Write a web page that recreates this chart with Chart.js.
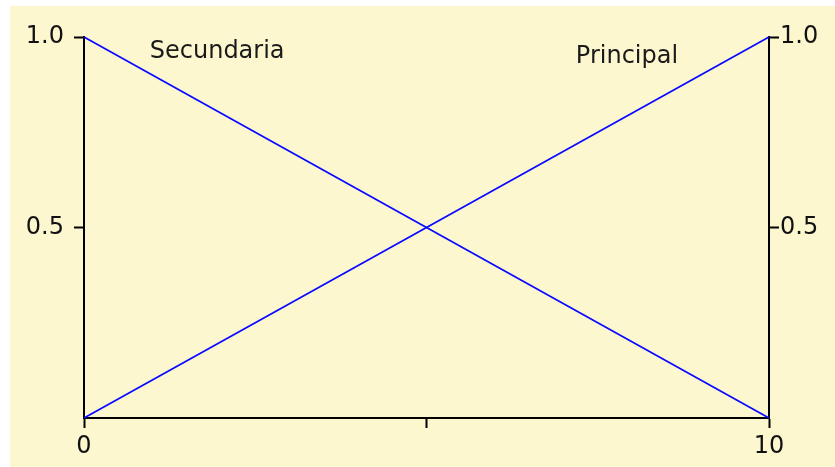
<!DOCTYPE html>
<html>
<head>
<meta charset="utf-8">
<script src="https://cdn.jsdelivr.net/npm/chart.js@4"></script>
<style>
  html, body { margin: 0; padding: 0; background: #ffffff; }
  #wrap {
    position: absolute;
    left: 10px;
    top: 6px;
    width: 825px;
    height: 461px;
    background: #fdf7d0;
  }
</style>
</head>
<body>
<div id="wrap"><canvas id="chart"></canvas></div>
<script>
// data
const xValues = [0, 10];
const secundaria = [1, 0];
const principal = [0, 1];
const xTickLabels = { 0: "0", 10: "10" };
const yTickLabels = { 0.5: "0.5", 1: "1.0" };

// curve names, placed in data coordinates (left edge, baseline)
const labelNames = ["Secundaria", "Principal"];
const labelX = [0.96, 7.18];
const labelY = [0.945, 0.932];

Chart.defaults.font.family = "'DejaVu Sans', sans-serif";
Chart.defaults.font.size = 24;
Chart.defaults.color = "#111";

const curveLabels = {
  id: "curveLabels",
  afterDatasetsDraw(chart) {
    const { ctx, scales } = chart;
    ctx.save();
    ctx.font = "24px 'DejaVu Sans', sans-serif";
    ctx.fillStyle = "#1a1a1a";
    ctx.textAlign = "left";
    ctx.textBaseline = "alphabetic";
    labelNames.forEach((name, i) => {
      ctx.fillText(name, scales.x.getPixelForValue(labelX[i]), scales.y.getPixelForValue(labelY[i]));
    });
    ctx.restore();
  },
};

const toPoints = (ys) => xValues.map((x, i) => ({ x: x, y: ys[i] }));

const tickColor = (ctx) => (ctx.tick && ctx.tick.value === 0 ? "rgba(0,0,0,0)" : "#000");

new Chart(document.getElementById("chart"), {
  type: "line",
  data: {
    datasets: [
      {
        label: "Secundaria",
        data: toPoints(secundaria),
        borderColor: "#0a0aff",
        borderWidth: 1.8,
        pointRadius: 0,
        clip: 5,
      },
      {
        label: "Principal",
        data: toPoints(principal),
        borderColor: "#0a0aff",
        borderWidth: 1.8,
        pointRadius: 0,
        clip: 5,
      },
    ],
  },
  options: {
    responsive: true,
    maintainAspectRatio: false,
    animation: false,
    layout: { padding: { top: 31, left: 0, right: 0, bottom: 0 } },
    plugins: {
      legend: { display: false },
      tooltip: { enabled: false },
    },
    scales: {
      x: {
        type: "linear",
        min: 0,
        max: 10,
        afterBuildTicks: (scale) => {
          scale.ticks = [0, 5, 10].map((v) => ({ value: v }));
        },
        afterFit: (scale) => {
          scale.height = 49;
        },
        border: { display: true, color: "#000", width: 2 },
        grid: { drawOnChartArea: false, drawTicks: true, tickLength: 10, tickColor: "#000", tickWidth: 2 },
        ticks: {
          maxRotation: 0,
          padding: 4,
          color: "#111",
          callback: (v) => xTickLabels[v] || "",
        },
      },
      y: {
        type: "linear",
        position: "left",
        min: 0,
        max: 1,
        afterBuildTicks: (scale) => {
          scale.ticks = [0, 0.5, 1].map((v) => ({ value: v }));
        },
        afterFit: (scale) => {
          scale.width = 74;
        },
        border: { display: true, color: "#000", width: 2 },
        grid: { drawOnChartArea: false, drawTicks: true, tickLength: 10, tickColor: tickColor, tickWidth: 2 },
        ticks: {
          padding: 10,
          color: "#111",
          callback: (v) => yTickLabels[v] || "",
        },
      },
      y2: {
        type: "linear",
        position: "right",
        min: 0,
        max: 1,
        afterBuildTicks: (scale) => {
          scale.ticks = [0, 0.5, 1].map((v) => ({ value: v }));
        },
        afterFit: (scale) => {
          scale.width = 66;
        },
        border: { display: true, color: "#000", width: 2 },
        grid: { drawOnChartArea: false, drawTicks: true, tickLength: 10, tickColor: tickColor, tickWidth: 2 },
        ticks: {
          padding: 1,
          color: "#111",
          callback: (v) => yTickLabels[v] || "",
        },
      },
    },
  },
  plugins: [curveLabels],
});
</script>
</body>
</html>
